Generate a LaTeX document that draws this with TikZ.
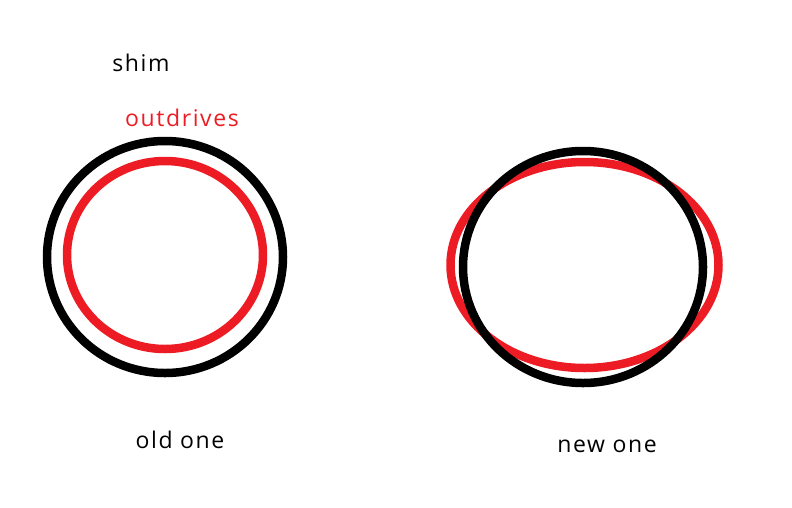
\documentclass[tikz,border=0pt]{standalone}
\usepackage{fontspec}
\setmainfont{Open Sans}[LetterSpace=7]
\usepackage{xcolor}
\usepackage{tikz}
\usetikzlibrary{positioning}
\definecolor{paintred}{HTML}{ED1C24}

\begin{document}
\begin{tikzpicture}[
    x=1pt, y=-1pt,
    ring/.style={draw=black, line width=8.5pt},
    redring/.style={draw=paintred, line width=8.5pt},
    label/.style={font=\fontsize{23}{26}\selectfont, inner sep=0pt}
]
\useasboundingbox (0,0) rectangle (792,507);

% old one
\draw[ring] (165,257) ellipse [x radius=118, y radius=116];
\draw[redring] (165,255) ellipse [x radius=98, y radius=94];

% new one
\draw[redring] (584.5,265) ellipse [x radius=134, y radius=103];
\draw[ring] (583,267) ellipse [x radius=120, y radius=116];

\node[label] (shim) at (141,63) {shim};
\node[label, text=paintred] (outdrives) at (182,118) {outdrives};
\node[label] (old) at (180,440) {old one};
\node[label] (new) at (607,446) {new one};
\end{tikzpicture}
\end{document}
